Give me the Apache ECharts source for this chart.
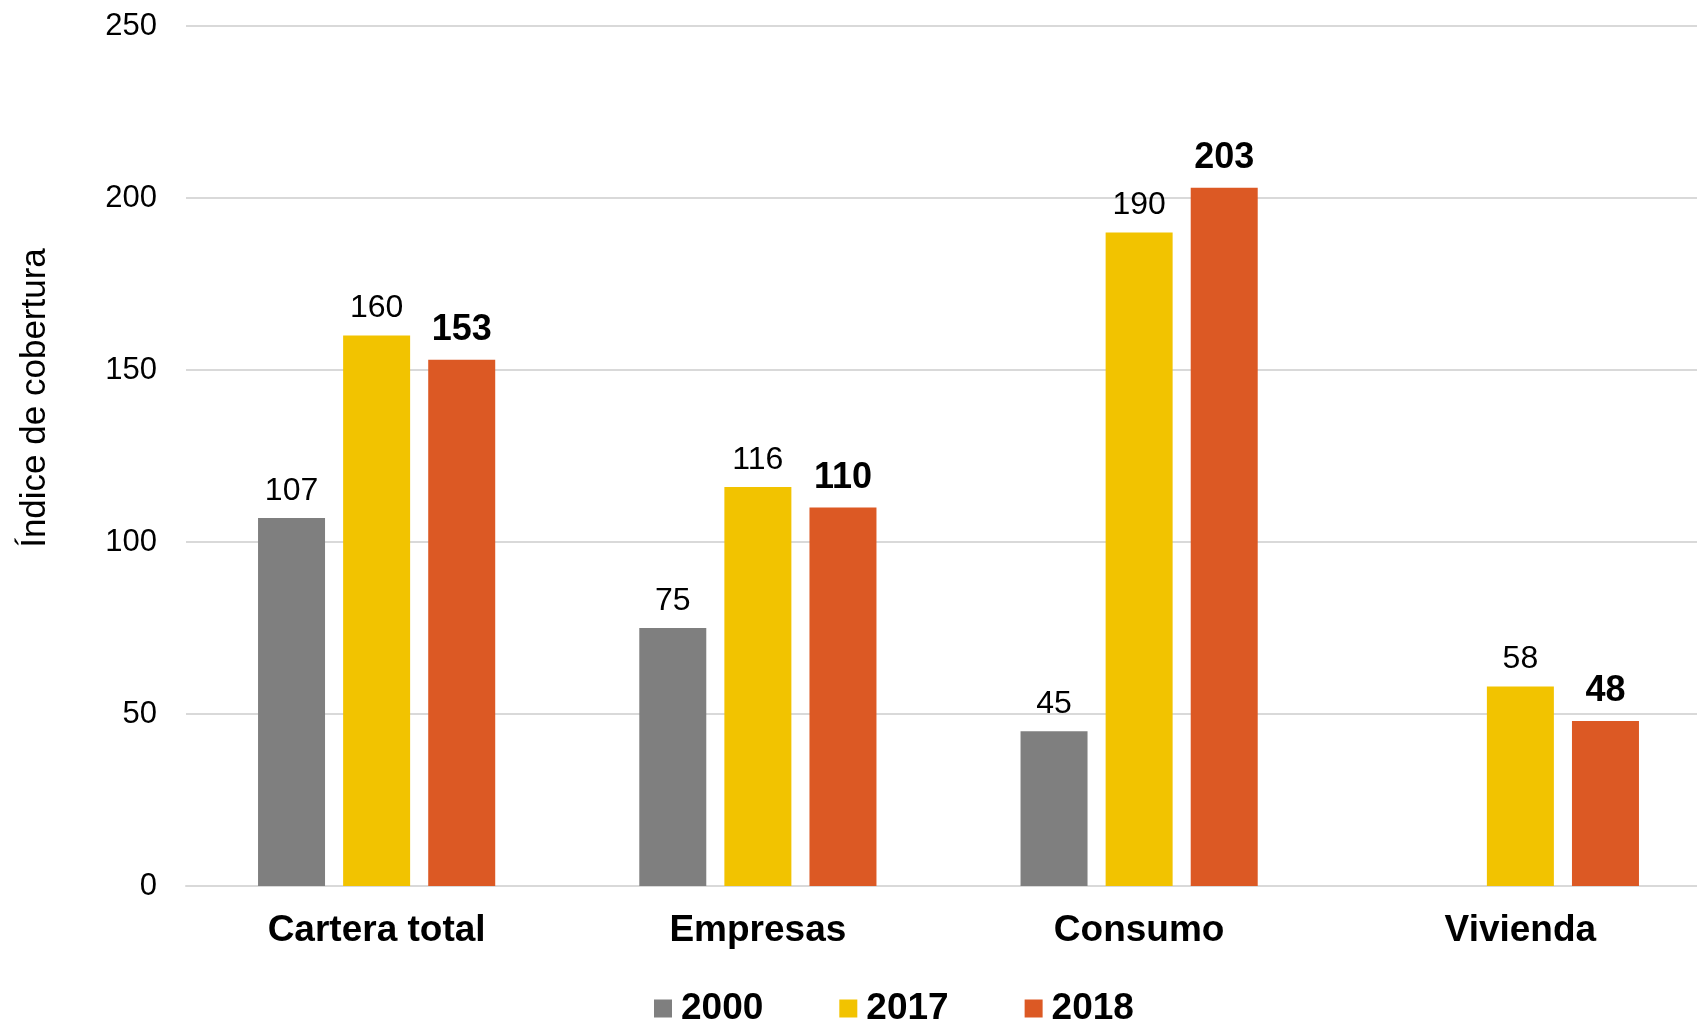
<!DOCTYPE html>
<html>
<head>
<meta charset="utf-8">
<script src="https://cdn.jsdelivr.net/npm/echarts@6/dist/echarts.min.js"></script>
<style>
html,body{margin:0;padding:0;background:#fff;overflow:hidden;width:1697px;height:1022px;}
#chart{width:1711px;height:1022px;}
</style>
</head>
<body>
<div id="chart"></div>
<script>
const categories = ['Cartera total', 'Empresas', 'Consumo', 'Vivienda'];
const seriesNames = ['2000', '2017', '2018'];
const values2000 = [107, 75, 45, null];
const values2017 = [160, 116, 190, 58];
const values2018 = [153, 110, 203, 48];
const yTicks = { min: 0, max: 250, interval: 50 };
const yTitle = 'Índice de cobertura';

const colors = ['#7F7F7F', '#F2C300', '#DC5924'];
const FONT = '"Liberation Sans", Arial, sans-serif';

function barSeries(name, data, color, bold) {
  return {
    name: name,
    type: 'bar',
    data: data,
    barWidth: 67,
    barGap: '27%',
    itemStyle: { color: color },
    label: {
      show: true,
      position: 'top',
      distance: bold ? 12 : 11,
      fontFamily: FONT,
      fontSize: bold ? 36 : 32,
      fontWeight: bold ? 'bold' : 'normal',
      color: '#000'
    }
  };
}

const chart = echarts.init(document.getElementById('chart'), null, { renderer: 'canvas' });
chart.setOption({
  animation: false,
  backgroundColor: '#fff',
  textStyle: { fontFamily: FONT },
  grid: { left: 186, right: 0, top: 26, height: 860, containLabel: false },
  legend: {
    data: seriesNames,
    left: 649,
    top: 985,
    itemWidth: 18,
    itemHeight: 18,
    itemGap: 76,
    icon: 'rect',
    textStyle: { fontFamily: FONT, fontSize: 37, fontWeight: 'bold', color: '#000', padding: [0, 0, 0, 4] }
  },
  xAxis: {
    type: 'category',
    data: categories,
    axisLine: { show: true, lineStyle: { color: '#D9D9D9', width: 2 } },
    axisTick: { show: false },
    axisLabel: { fontFamily: FONT, fontSize: 37, fontWeight: 'bold', color: '#000', margin: 26 }
  },
  yAxis: {
    type: 'value',
    min: yTicks.min,
    max: yTicks.max,
    interval: yTicks.interval,
    name: yTitle,
    nameLocation: 'middle',
    nameRotate: 90,
    nameGap: 133,
    nameTextStyle: { fontFamily: FONT, fontSize: 35, color: '#000', padding: [0, 0, 0, 116] },
    axisLine: { show: false },
    axisTick: { show: false },
    axisLabel: { fontFamily: FONT, fontSize: 31, color: '#000', margin: 29 },
    splitLine: { lineStyle: { color: '#D9D9D9', width: 2 } }
  },
  series: [
    barSeries(seriesNames[0], values2000, colors[0], false),
    barSeries(seriesNames[1], values2017, colors[1], false),
    barSeries(seriesNames[2], values2018, colors[2], true)
  ]
});
</script>
</body>
</html>
